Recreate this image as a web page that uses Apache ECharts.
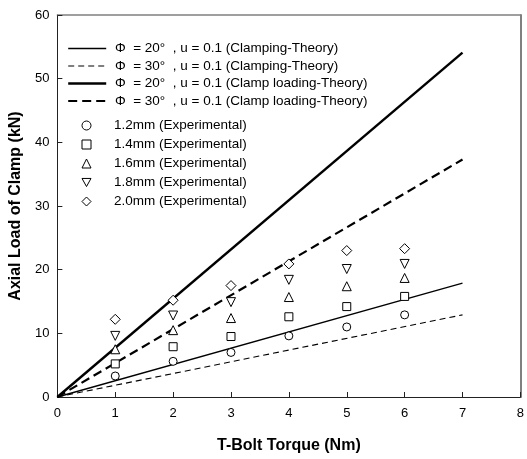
<!DOCTYPE html>
<html>
<head>
<meta charset="utf-8">
<script src="https://cdn.jsdelivr.net/npm/echarts@6/dist/echarts.min.js"></script>
<style>
html,body{margin:0;padding:0;background:#fff;}
#chart{width:527px;height:459px;}
</style>
</head>
<body>
<div id="chart"></div>
<script>
// ---- data ----
var theoryX = [0, 7];
var clamping20 = [0, 17.9];
var clamping30 = [0, 12.9];
var loading20 = [0, 54.1];
var loading30 = [0, 37.3];

var torque = [1, 2, 3, 4, 5, 6];
var exp12 = [3.3, 5.6, 7.0, 9.6, 11.0, 12.9];
var exp14 = [5.2, 7.9, 9.5, 12.6, 14.2, 15.8];
var exp16 = [7.5, 10.5, 12.4, 15.7, 17.4, 18.7];
var exp18 = [9.6, 12.8, 14.9, 18.4, 20.1, 20.9];
var exp20 = [12.2, 15.2, 17.5, 20.9, 23.0, 23.3];

var lineNames = [
  'Φ  = 20°  , u = 0.1 (Clamping-Theory)',
  'Φ  = 30°  , u = 0.1 (Clamping-Theory)',
  'Φ  = 20°  , u = 0.1 (Clamp loading-Theory)',
  'Φ  = 30°  , u = 0.1 (Clamp loading-Theory)'
];
var expNames = [
  '1.2mm (Experimental)',
  '1.4mm (Experimental)',
  '1.6mm (Experimental)',
  '1.8mm (Experimental)',
  '2.0mm (Experimental)'
];

function pairs(xs, ys) { return xs.map(function (x, i) { return [x, ys[i]]; }); }

var FONT = "'Liberation Sans', Arial, sans-serif";
var chart = echarts.init(document.getElementById('chart'), null, {renderer: 'canvas'});

var lineStyles = [
  {width: 1.3, type: 'solid'},
  {width: 1.1, type: [6, 4]},
  {width: 2.4, type: 'solid'},
  {width: 2.2, type: [9, 5]}
];
var expSymbols = [
  {symbol: 'circle', size: 8, rotate: 0, icon: 'circle'},
  {symbol: 'rect', size: 8, rotate: 0, icon: 'rect'},
  {symbol: 'triangle', size: 9, rotate: 0, icon: 'triangle'},
  {symbol: 'triangle', size: 9, rotate: 180, icon: 'path://M0,0L10,0L5,9Z'},
  {symbol: 'diamond', size: 10, rotate: 0, icon: 'diamond'}
];

var theoryData = [clamping20, clamping30, loading20, loading30];
var expData = [exp12, exp14, exp16, exp18, exp20];

var series = [];
lineNames.forEach(function (name, i) {
  series.push({
    name: name, type: 'line', data: pairs(theoryX, theoryData[i]),
    symbol: 'none', showSymbol: false, silent: true, animation: false,
    lineStyle: {color: '#000', width: lineStyles[i].width, type: lineStyles[i].type},
    itemStyle: {color: 'rgba(0,0,0,0)', borderColor: 'rgba(0,0,0,0)', borderWidth: 0},
    z: 2
  });
});
expNames.forEach(function (name, i) {
  var s = expSymbols[i];
  series.push({
    name: name, type: 'scatter', data: pairs(torque, expData[i]),
    symbol: s.symbol, symbolSize: s.size, symbolRotate: s.rotate,
    animation: false, silent: true,
    itemStyle: {color: '#fff', borderColor: '#000', borderWidth: 1, opacity: 1},
    z: 3
  });
});

var option = {
  backgroundColor: '#fff',
  animation: false,
  textStyle: {fontFamily: FONT, color: '#000'},
  grid: {left: 49, right: 3, top: 15, bottom: 58, containLabel: false},
  legend: [
    {
      data: lineNames.map(function (n, i) {
        return {name: n,
          lineStyle: {color: '#000', width: lineStyles[i].width, type: lineStyles[i].type}};
      }),
      orient: 'vertical', left: 62, top: 36.5,
      itemWidth: 38, itemHeight: 14, itemGap: 3.5,
      formatter: function (n) { return ' ' + n; },
      textStyle: {fontFamily: FONT, fontSize: 13.5, color: '#000'},
      selectedMode: false
    },
    {
      data: expNames.map(function (n, i) {
        return {name: n, icon: expSymbols[i].icon,
          itemStyle: {color: '#fff', borderColor: '#000', borderWidth: 1}};
      }),
      orient: 'vertical', left: 76.5, top: 113.5,
      itemWidth: 9, itemHeight: 9, itemGap: 5,
      textStyle: {fontFamily: FONT, fontSize: 13.5, color: '#000', padding: [0, 0, 0, 18]},
      selectedMode: false
    }
  ],
  xAxis: [
    {
      type: 'value', min: 0, max: 8, interval: 1, position: 'bottom',
      name: 'T-Bolt Torque (Nm)', nameLocation: 'middle', nameGap: 41,
      nameTextStyle: {fontFamily: FONT, fontSize: 16, fontWeight: 'bold', color: '#000'},
      axisLine: {show: true, onZero: false, lineStyle: {color: '#222', width: 1}},
      axisTick: {show: true, inside: true, length: 5, lineStyle: {color: '#222'}},
      axisLabel: {fontFamily: FONT, fontSize: 13, color: '#000', margin: 10},
      splitLine: {show: false}
    },
    {
      type: 'value', min: 0, max: 8, interval: 1, position: 'top',
      axisLine: {show: true, onZero: false, lineStyle: {color: '#808080', width: 1.5}},
      axisTick: {show: false}, axisLabel: {show: false}, splitLine: {show: false}
    }
  ],
  yAxis: [
    {
      type: 'value', min: 0, max: 60, interval: 10, position: 'left',
      name: 'Axial Load of Clamp (kN)', nameLocation: 'middle', nameGap: 24,
      nameTextStyle: {fontFamily: FONT, fontSize: 16, fontWeight: 'bold', color: '#000'},
      axisLine: {show: true, onZero: false, lineStyle: {color: '#222', width: 1}},
      axisTick: {show: true, inside: true, length: 5, lineStyle: {color: '#222'}},
      axisLabel: {fontFamily: FONT, fontSize: 13, color: '#000', margin: 8},
      splitLine: {show: false}
    },
    {
      type: 'value', min: 0, max: 60, interval: 10, position: 'right',
      axisLine: {show: true, onZero: false, lineStyle: {color: '#808080', width: 2}},
      axisTick: {show: false}, axisLabel: {show: false}, splitLine: {show: false}
    }
  ],
  series: series
};
chart.setOption(option);
</script>
</body>
</html>
